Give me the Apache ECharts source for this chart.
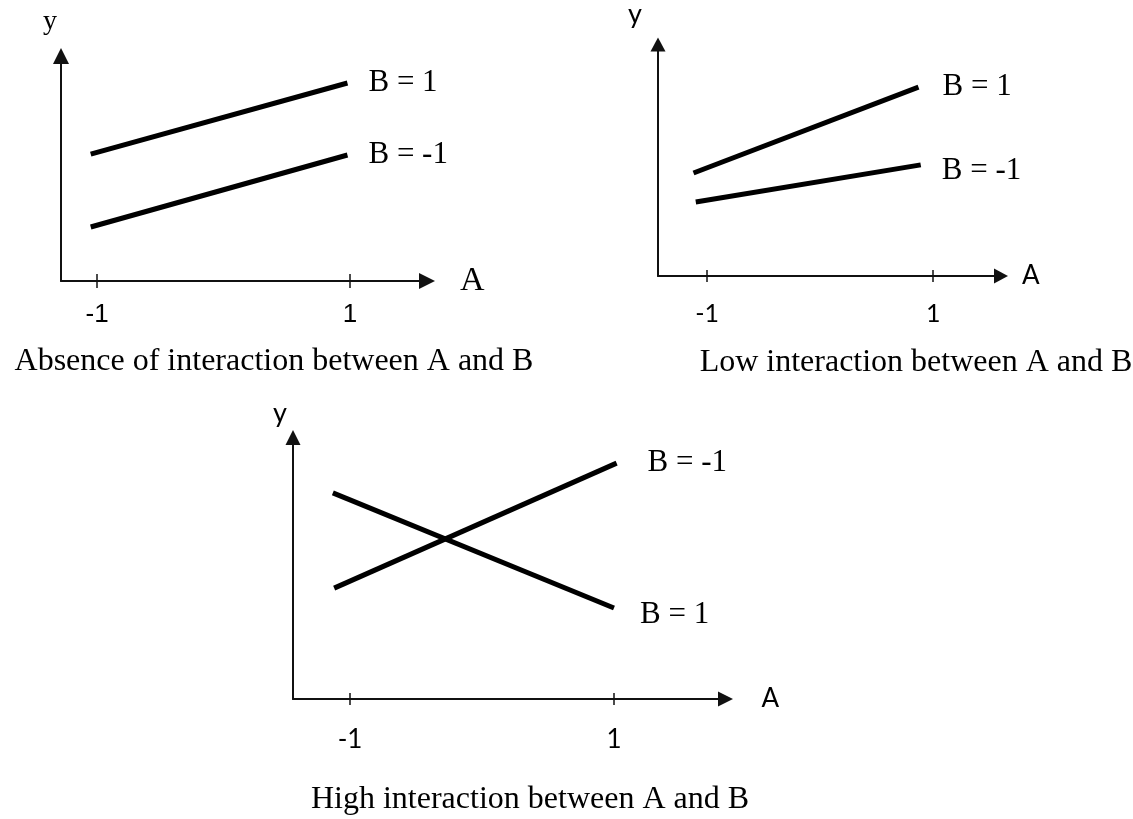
<!DOCTYPE html>
<html>

<head>
    <meta http-equiv="Content-Type" content="text/html; charset=utf-8" />
    <title>interaction A x B</title>
    <style type="text/css">
        * {
            margin: 0;
            padding: 0;
        }

        html,
        body {
            width: 100%;
            height: 100%;
            background: #fff;
        }
    </style>
</head>

<body>
    <div id="main" style="width: 1133px;height:819px;"></div>
    <script type="text/javascript" src="https://cdn.jsdelivr.net/npm/echarts@6/dist/echarts.min.js"></script>
    <script type="text/javascript">
        // data (y is on an arbitrary 0..10 scale)
        const tickValues = [-1, 1];
        const tickLabels = ['-1', '1'];
        const captions = [
            'Absence of interaction between A and B',
            'Low interaction between A and B',
            'High interaction between A and B'
        ];
        const seriesNames = [
            ['B = 1', 'B = -1'],
            ['B = 1', 'B = -1'],
            ['B = -1', 'B = 1']
        ];
        // panel 1 : absence
        const absB1 = [[-1.05, 5.64], [0.98, 8.8]];
        const absBm1 = [[-1.05, 2.4], [0.98, 5.6]];
        // panel 2 : low
        const lowB1 = [[-1.12, 4.45], [0.87, 8.16]];
        const lowBm1 = [[-1.1, 3.2], [0.89, 4.8]];
        // panel 3 : high
        const highBm1 = [[-1.12, 4.24], [1.02, 9.02]];
        const highB1 = [[-1.13, 7.88], [1.0, 3.48]];
        const panelData = [[absB1, absBm1], [lowB1, lowBm1], [highBm1, highB1]];
    </script>
    <script type="text/javascript">
        // layout / style of each panel (pixels)
        const panels = [
            {
                grid: { left: 61, top: 56, width: 366, height: 225 },
                xMin: -1.285, xMax: 1.609,
                arrow: [16, 16],
                tickLen: 7,
                labelFont: 'Liberation Sans', labelSize: 26, labelMargin: 21,
                nameFont: 'Liberation Serif', ySize: 28, ASize: 34,
                yGap: 20, yPad: [0, 22, 0, 0],
                AGap: 33, APad: [8, 0, 0, 0],
                lblDist: [21, 21], lblOffset: [[0, 0], [0, 0]],
                caption: { left: 269, top: 341 }
            },
            {
                grid: { left: 658, top: 44.5, width: 343, height: 231.5 },
                xMin: -1.434, xMax: 1.6,
                arrow: [15, 14],
                tickLen: 6,
                labelFont: 'Lato', labelSize: 25, labelMargin: 25,
                nameFont: 'Lato', ySize: 27, ASize: 26,
                yGap: 17, yPad: [0, 46, 0, 0],
                AGap: 21, APad: [12, 0, 0, 0],
                lblDist: [24, 21], lblOffset: [[0, 0], [0, 6]],
                caption: { left: 911, top: 342 }
            },
            {
                grid: { left: 293, top: 437.5, width: 432.5, height: 261.5 },
                xMin: -1.432, xMax: 1.845,
                arrow: [15, 15],
                tickLen: 6,
                labelFont: 'Lato', labelSize: 26, labelMargin: 28,
                nameFont: 'Lato', ySize: 27, ASize: 26,
                yGap: 11, yPad: [0, 26, 0, 0],
                AGap: 36, APad: [0, 0, 18, 0],
                lblDist: [31, 26], lblOffset: [[0, 0], [0, 7]],
                caption: { left: 525, top: 779 }
            }
        ];

        const axisColor = '#111';
        const grids = [], xAxes = [], xAxesInner = [], yAxes = [], series = [], titles = [];

        panels.forEach((p, i) => {
            grids.push(p.grid);
            xAxes.push({
                type: 'value', gridIndex: i, position: 'bottom',
                min: p.xMin, max: p.xMax,
                name: 'A', nameLocation: 'end', nameGap: p.AGap,
                nameTextStyle: { fontFamily: p.nameFont, fontSize: p.ASize, color: '#000', padding: p.APad },
                axisLine: {
                    onZero: false, symbol: ['none', 'triangle'], symbolSize: p.arrow,
                    lineStyle: { color: axisColor, width: 2 }
                },
                axisTick: { show: true, customValues: tickValues, length: p.tickLen, lineStyle: { color: axisColor, width: 1.5 } },
                axisLabel: {
                    customValues: tickValues, margin: p.labelMargin,
                    formatter: v => tickLabels[tickValues.indexOf(v)],
                    fontFamily: p.labelFont, fontSize: p.labelSize, color: '#000'
                },
                splitLine: { show: false }
            });
            // second axis on the same line, only to make the ticks cross the axis
            xAxesInner.push({
                type: 'value', gridIndex: i, position: 'bottom',
                min: p.xMin, max: p.xMax,
                axisLine: { show: false, onZero: false },
                axisTick: { show: true, inside: true, customValues: tickValues, length: p.tickLen, lineStyle: { color: axisColor, width: 1.5 } },
                axisLabel: { show: false },
                splitLine: { show: false }
            });
            yAxes.push({
                type: 'value', gridIndex: i, min: 0, max: 10,
                name: 'y', nameLocation: 'end', nameGap: p.yGap,
                nameTextStyle: { fontFamily: p.nameFont, fontSize: p.ySize, color: '#000', padding: p.yPad },
                axisLine: {
                    show: true, onZero: false, symbol: ['none', 'triangle'], symbolSize: p.arrow,
                    lineStyle: { color: axisColor, width: 2 }
                },
                axisTick: { show: false },
                axisLabel: { show: false },
                splitLine: { show: false }
            });
            panelData[i].forEach((d, k) => {
                series.push({
                    type: 'line', name: seriesNames[i][k],
                    xAxisIndex: i, yAxisIndex: i,
                    data: d,
                    symbol: 'none',
                    lineStyle: { color: '#000', width: 5, cap: 'butt' },
                    endLabel: {
                        show: true,
                        formatter: seriesNames[i][k],
                        distance: p.lblDist[k],
                        offset: p.lblOffset[k],
                        fontFamily: 'Liberation Serif', fontSize: 31, color: '#000'
                    }
                });
            });
            titles.push({
                text: captions[i],
                left: p.caption.left, top: p.caption.top,
                textAlign: 'center',
                textStyle: { fontFamily: 'Liberation Serif', fontSize: 32, fontWeight: 'normal', color: '#000' }
            });
        });

        const chart = echarts.init(document.getElementById('main'));
        chart.setOption({
            animation: false,
            backgroundColor: '#fff',
            title: titles,
            grid: grids,
            xAxis: xAxes.concat(xAxesInner),
            yAxis: yAxes,
            series: series
        });
    </script>
</body>

</html>
